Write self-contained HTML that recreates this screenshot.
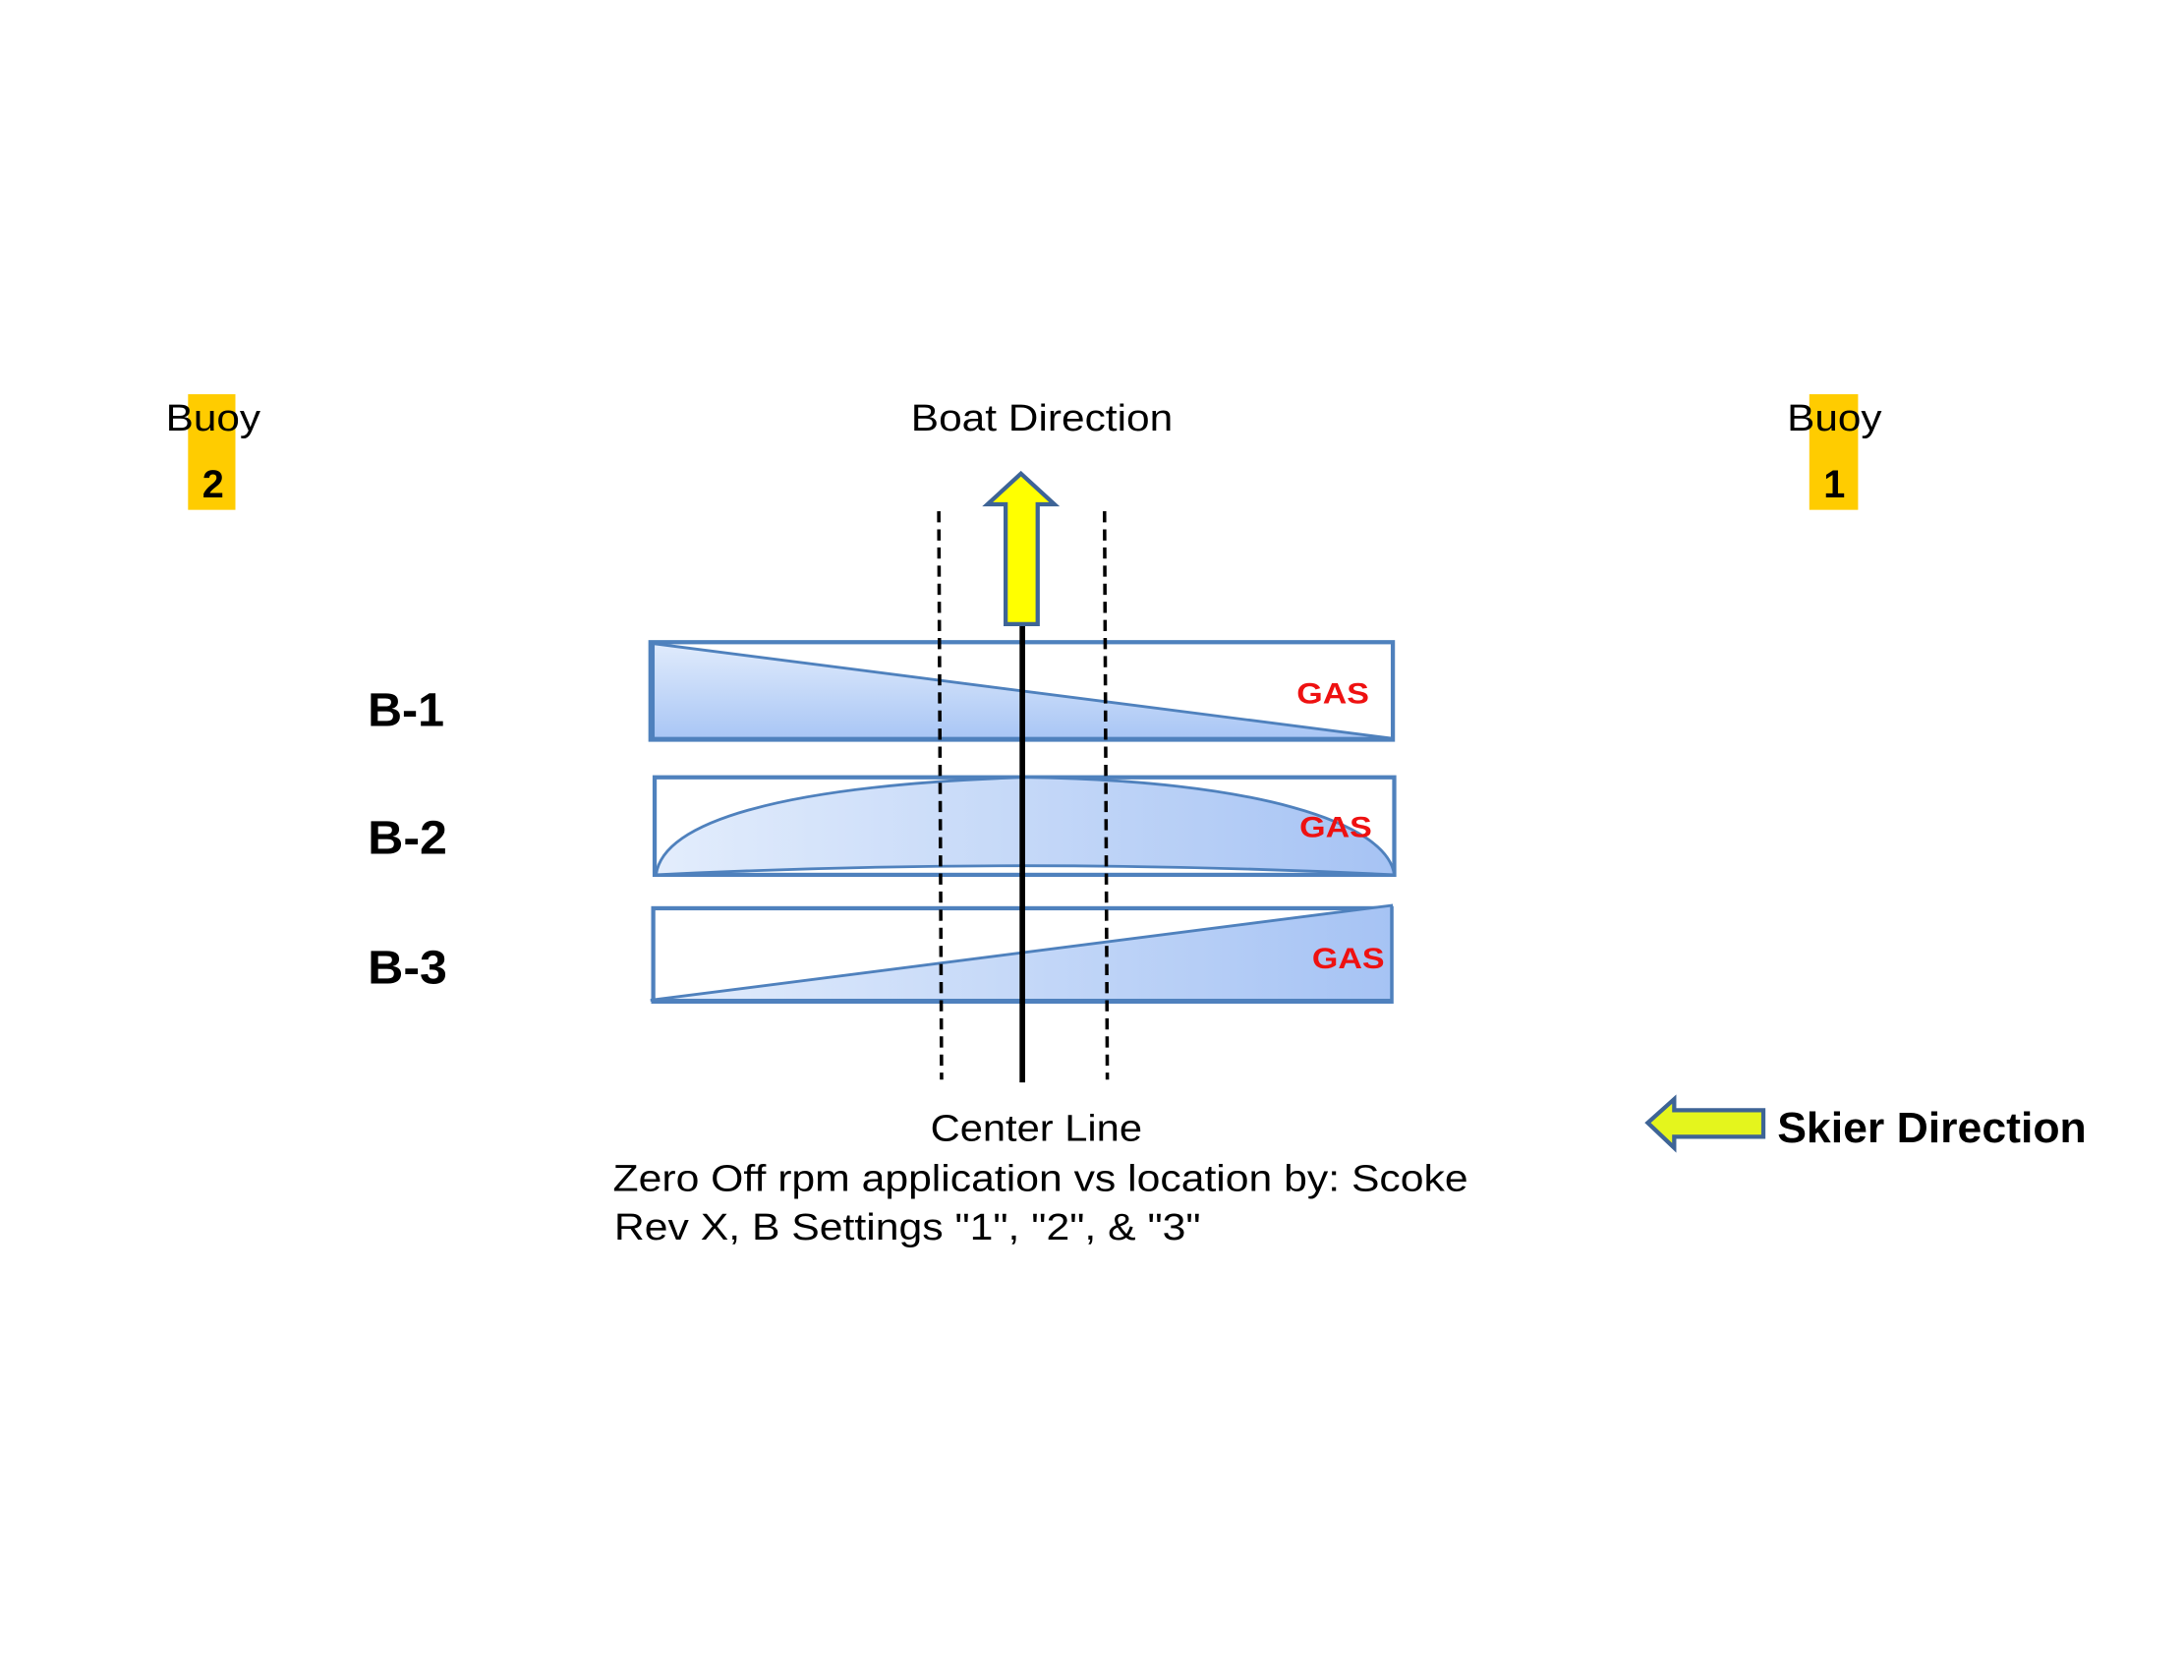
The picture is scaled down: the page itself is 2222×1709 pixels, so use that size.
<!DOCTYPE html>
<html><head><meta charset="utf-8"><style>
html,body{margin:0;padding:0;background:#fff;}
svg{display:block;}
text{font-family:"Liberation Sans",Arial,sans-serif;}
</style></head><body>
<svg width="2222" height="1709" viewBox="0 0 1568 1206" xmlns="http://www.w3.org/2000/svg">
<defs>
<linearGradient id="gv" x1="0" y1="0" x2="0" y2="1"><stop offset="0" stop-color="#e0ebfc"/><stop offset="1" stop-color="#a9c6f5"/></linearGradient>
<linearGradient id="gh" x1="0" y1="0" x2="1" y2="0"><stop offset="0" stop-color="#e3edfc"/><stop offset="1" stop-color="#a6c3f4"/></linearGradient>
</defs>
<rect width="1568" height="1206" fill="#fff"/>
<rect x="135" y="283" width="34" height="83" fill="#ffcc00"/>
<text x="119" y="309" font-size="27" textLength="68" lengthAdjust="spacingAndGlyphs">Buoy</text>
<text x="153" y="357" font-size="28" font-weight="bold" text-anchor="middle">2</text>
<rect x="1299" y="283" width="35" height="83" fill="#ffcc00"/>
<text x="1283" y="309" font-size="27" textLength="68" lengthAdjust="spacingAndGlyphs">Buoy</text>
<text x="1317" y="357" font-size="28" font-weight="bold" text-anchor="middle">1</text>
<text x="654" y="309" font-size="27" textLength="188" lengthAdjust="spacingAndGlyphs">Boat Direction</text>
<text x="264" y="521" font-size="34" font-weight="bold" textLength="55" lengthAdjust="spacingAndGlyphs">B-1</text>
<text x="264" y="613" font-size="34" font-weight="bold" textLength="57" lengthAdjust="spacingAndGlyphs">B-2</text>
<text x="264" y="706" font-size="34" font-weight="bold" textLength="57" lengthAdjust="spacingAndGlyphs">B-3</text>
<rect x="467" y="461" width="533" height="70" fill="#fff" stroke="#4f81bd" stroke-width="3"/>
<polygon points="469,462 999,530 469,530" fill="url(#gv)" stroke="#4f81bd" stroke-width="2"/>
<text x="931" y="505" font-size="21" font-weight="bold" fill="#ee1111" textLength="52" lengthAdjust="spacingAndGlyphs">GAS</text>
<rect x="470" y="558" width="531" height="70" fill="#fff" stroke="#4f81bd" stroke-width="3"/>
<path d="M471,628 C476,590 560,564 735,558 C900,560 996,590 1001,628 Q735,615 471,628 Z" fill="url(#gh)" stroke="#4f81bd" stroke-width="2"/>
<text x="933" y="601" font-size="21" font-weight="bold" fill="#ee1111" textLength="52" lengthAdjust="spacingAndGlyphs">GAS</text>
<rect x="469" y="652" width="530" height="67" fill="#fff" stroke="#4f81bd" stroke-width="3"/>
<polygon points="467,718 999,650 999,718" fill="url(#gh)" stroke="#4f81bd" stroke-width="2"/>
<text x="942" y="695" font-size="21" font-weight="bold" fill="#ee1111" textLength="52" lengthAdjust="spacingAndGlyphs">GAS</text>
<line x1="674" y1="367" x2="676" y2="775" stroke="#000" stroke-width="2.5" stroke-dasharray="8,5"/>
<line x1="793" y1="367" x2="795" y2="775" stroke="#000" stroke-width="2.5" stroke-dasharray="8,5"/>
<line x1="734" y1="448" x2="734" y2="777" stroke="#000" stroke-width="4"/>
<polygon points="733,340 757,362 745,362 745,448 722,448 722,362 709,362" fill="#ffff00" stroke="#3e6496" stroke-width="3"/>
<text x="668" y="819" font-size="27" textLength="152" lengthAdjust="spacingAndGlyphs">Center Line</text>
<text x="440" y="855" font-size="27" textLength="614" lengthAdjust="spacingAndGlyphs">Zero Off rpm application vs location by: Scoke</text>
<text x="441" y="890" font-size="27" textLength="421" lengthAdjust="spacingAndGlyphs">Rev X, B Settings "1", "2", &amp; "3"</text>
<polygon points="1183,806 1202,789 1202,797 1266,797 1266,816 1202,816 1202,824" fill="#e4f51d" stroke="#3e6496" stroke-width="3"/>
<text x="1276" y="820" font-size="31" font-weight="bold" textLength="222" lengthAdjust="spacingAndGlyphs">Skier Direction</text>
</svg>
</body></html>
